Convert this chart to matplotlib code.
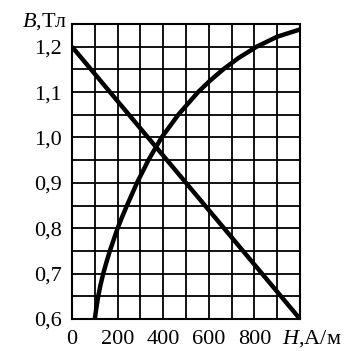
import matplotlib.pyplot as plt
import numpy as np

# B(H) кривая намагничивания и нагрузочная прямая
h_curve = [100, 107, 115, 125, 137, 151, 166, 183, 200, 220, 241, 263, 285, 335, 393, 466, 553, 605,
           663, 730, 810, 900, 1000]
b_curve = [0.600, 0.625, 0.650, 0.675, 0.700, 0.725, 0.750, 0.775, 0.800, 0.825, 0.850, 0.875, 0.900,
           0.950, 1.000, 1.050, 1.100, 1.125, 1.150, 1.175, 1.200, 1.222, 1.238]
h_line = [0, 1000]
b_line = [1.2, 0.6]

x_ticks = np.arange(0, 1001, 100)
x_labels = ['0', '', '200', '', '400', '', '600', '', '800', '', '']
y_ticks = np.arange(0.6, 1.2501, 0.05)
y_labels = ['0,6', '', '0,7', '', '0,8', '', '0,9', '', '1,0', '', '1,1', '', '1,2', '']

plt.rcParams['font.family'] = ['Liberation Serif', 'DejaVu Serif']
plt.rcParams['mathtext.fontset'] = 'custom'
plt.rcParams['mathtext.rm'] = 'Liberation Serif'
plt.rcParams['mathtext.it'] = 'Liberation Serif:italic'

W, H = 354, 351
fig = plt.figure(figsize=(W / 100, H / 100), dpi=100)
ax = fig.add_axes([72 / W, 1 - 319 / H, 228 / W, 295 / H])

ax.plot(h_line, b_line, color='black', lw=3.2, solid_capstyle='butt', zorder=3)
ax.plot(h_curve, b_curve, color='black', lw=3.2, solid_capstyle='butt',
        solid_joinstyle='round', zorder=3)

ax.set_xlim(0, 1000)
ax.set_ylim(0.6, 1.25)
ax.set_xticks(x_ticks)
ax.set_xticklabels(x_labels)
ax.set_yticks(y_ticks)
ax.set_yticklabels(y_labels)
ax.tick_params(length=0, labelsize=16, pad=7)
ax.tick_params(axis='x', pad=8)
ax.grid(True, color='black', lw=1.3)
for s in ax.spines.values():
    s.set_linewidth(1.5)

fig.text(22 / W, 1 - 27 / H, '$B$,Тл', fontsize=16)
fig.text(282 / W, 1 - 344 / H, '$H$,А/м', fontsize=16)

fig.savefig('out.png', dpi=100)
